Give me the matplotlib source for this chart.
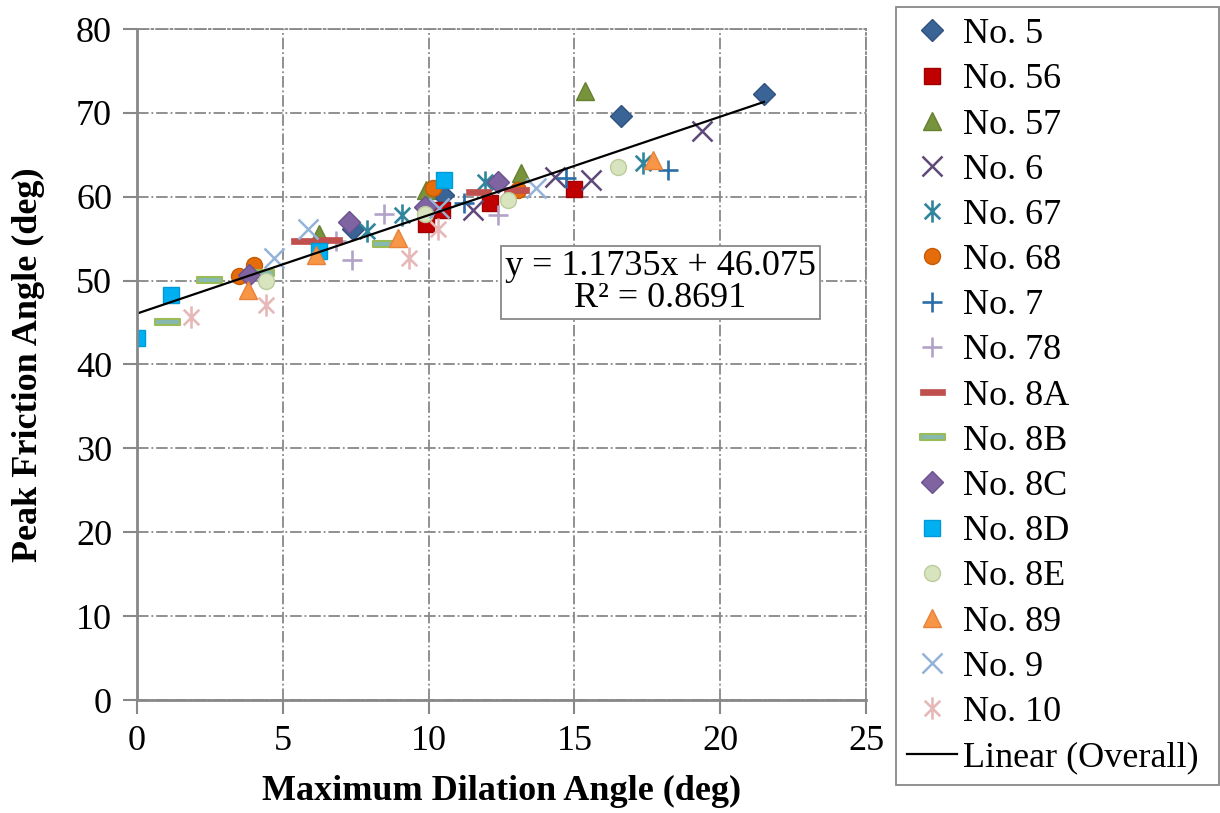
import matplotlib
matplotlib.use("Agg")
import matplotlib.pyplot as plt
from matplotlib.path import Path

plt.rcParams['font.family'] = ['Liberation Serif', 'DejaVu Serif']

# data (x = max dilation angle, y = peak friction angle)
no5_x = [21.5, 16.6, 7.4, 10.5]
no5_y = [72.2, 69.6, 56.1, 60.2]
no56_x = [10.47, 9.91, 12.09, 14.97]
no56_y = [58.4, 56.7, 59.2, 60.9]
no57_x = [15.38, 13.18, 9.91, 6.25]
no57_y = [72.6, 62.8, 60.8, 55.5]
no6_x = [19.36, 15.58, 14.32, 11.52]
no6_y = [67.8, 62.0, 62.4, 58.4]
no67_x = [17.35, 11.95, 9.1, 7.9]
no67_y = [64.0, 61.8, 57.8, 55.9]
no68_x = [3.5, 4.02, 10.14, 13.06]
no68_y = [50.5, 51.9, 61.0, 60.8]
no7_x = [18.21, 14.72, 11.2]
no7_y = [63.2, 62.2, 59.3]
no78_x = [7.39, 8.48, 6.82, 12.37]
no78_y = [52.5, 58.0, 54.7, 57.8]
no8a_x = [5.68, 6.59, 11.69, 13.0]
no8a_y = [54.7, 54.9, 60.6, 60.8]
no8b_x = [1.04, 2.47, 4.25, 8.5]
no8b_y = [45.1, 50.1, 50.9, 54.4]
no8c_x = [7.28, 12.37, 3.85, 9.86]
no8c_y = [57.0, 61.8, 50.7, 58.8]
no8d_x = [0.0, 1.16, 6.25, 10.54]
no8d_y = [43.1, 48.3, 53.5, 62.0]
no8e_x = [4.42, 9.86, 12.72, 16.49]
no8e_y = [49.9, 58.0, 59.6, 63.6]
no89_x = [3.79, 6.14, 8.94, 17.7]
no89_y = [48.9, 53.1, 55.1, 64.4]
no9_x = [5.85, 4.7, 13.69, 10.37]
no9_y = [56.1, 52.7, 61.0, 58.6]
no10_x = [1.84, 4.42, 9.34, 10.31]
no10_y = [45.7, 47.1, 52.7, 56.1]

slope, intercept, r2 = 1.1735, 46.075, 0.8691
fit_x = [0, 21.5]

# excel-like star marker: x plus vertical bar
star = Path([(-0.7, -0.7), (0.7, 0.7), (-0.7, 0.7), (0.7, -0.7), (0, -1), (0, 1)],
            [Path.MOVETO, Path.LINETO, Path.MOVETO, Path.LINETO, Path.MOVETO, Path.LINETO])
bar = Path([(-0.5, -0.13), (0.5, -0.13), (0.5, 0.13), (-0.5, 0.13), (-0.5, -0.13)],
           [Path.MOVETO, Path.LINETO, Path.LINETO, Path.LINETO, Path.CLOSEPOLY])

fig = plt.figure(figsize=(12.2, 8.13), dpi=100)
ax = fig.add_axes([137 / 1220, 113 / 813, 729 / 1220, 671 / 813])

ax.plot(no5_x, no5_y, ls='none', marker='D', ms=11.5, mfc='#3A6496', mec='#2F5280', label='No. 5')
ax.plot(no56_x, no56_y, ls='none', marker='s', ms=11.5, mfc='#C00000', mec='#A00000', label='No. 56')
ax.plot(no57_x, no57_y, ls='none', marker='^', ms=12.5, mfc='#77933C', mec='#66802F', label='No. 57')
ax.plot(no6_x, no6_y, ls='none', marker='x', ms=15, mec='#5F497A', mew=1.8, label='No. 6')
ax.plot(no67_x, no67_y, ls='none', marker=star, ms=16, mfc='none', mec='#31859C', mew=1.9, label='No. 67')
ax.plot(no68_x, no68_y, ls='none', marker='o', ms=11.5, mfc='#E46C0A', mec='#C85A05', label='No. 68')
ax.plot(no7_x, no7_y, ls='none', marker='+', ms=15, mec='#2C6EA8', mew=1.9, label='No. 7')
ax.plot(no78_x, no78_y, ls='none', marker='+', ms=15, mec='#B3A2C7', mew=1.9, label='No. 78')
ax.plot(no8a_x, no8a_y, ls='none', marker=bar, ms=18, mfc='#C0504D', mec='#C0504D', mew=0.5, label='No. 8A')
ax.plot(no8b_x, no8b_y, ls='none', marker=bar, ms=18, mfc='#86B9B0', mec='#9BBB59', mew=1.5, label='No. 8B')
ax.plot(no8c_x, no8c_y, ls='none', marker='D', ms=11.5, mfc='#8064A2', mec='#6B5290', label='No. 8C')
ax.plot(no8d_x, no8d_y, ls='none', marker='s', ms=11.5, mfc='#00B0F0', mec='#009AD6', label='No. 8D')
ax.plot(no8e_x, no8e_y, ls='none', marker='o', ms=11.5, mfc='#D7E4BD', mec='#BCCB9C', label='No. 8E')
ax.plot(no89_x, no89_y, ls='none', marker='^', ms=12.5, mfc='#F79646', mec='#E8823A', label='No. 89')
ax.plot(no9_x, no9_y, ls='none', marker='x', ms=15, mec='#95B3D7', mew=1.8, label='No. 9')
ax.plot(no10_x, no10_y, ls='none', marker=star, ms=16, mfc='none', mec='#E6B9B8', mew=1.9, label='No. 10')

fit_y = [slope * v + intercept for v in fit_x]
ax.plot(fit_x, fit_y, color='black', lw=1.6, label='Linear (Overall)')

ax.text(17.95, 49.8, 'y = 1.1735x + 46.075\nR² = 0.8691', fontsize=26, ha='center', va='center',
        linespacing=0.95,
        bbox=dict(boxstyle='square,pad=0.12', fc='white', ec='#888888', lw=1.3))

ax.set_xlim(0, 25)
ax.set_ylim(0, 80)
ax.set_xticks(range(0, 26, 5))
ax.set_yticks(range(0, 81, 10))
ax.grid(True, color='#888888', ls='-.', lw=1.3)
ax.set_axisbelow(True)
for s in ['top', 'right']:
    ax.spines[s].set_color('#888888')
    ax.spines[s].set_linestyle('-.')
    ax.spines[s].set_linewidth(1.3)
for s in ['left', 'bottom']:
    ax.spines[s].set_color('#888888')
    ax.spines[s].set_linewidth(2)
ax.tick_params(direction='out', length=10, width=1.5, color='#888888', labelsize=26, pad=8)
ax.set_xlabel('Maximum Dilation Angle (deg)', fontsize=26, fontweight='bold', labelpad=12)
ax.set_ylabel('Peak Friction Angle (deg)', fontsize=26, fontweight='bold', labelpad=22)

leg = fig.legend(loc='upper left', bbox_to_anchor=(896 / 1220, 1 - 7 / 813, 323 / 1220, 0.0),
                 mode='expand', fontsize=26, numpoints=1, handlelength=1.4, handletextpad=0.15,
                 labelspacing=0.33, borderpad=0.3, borderaxespad=0, fancybox=False, framealpha=1)
leg.get_frame().set_edgecolor('#888888')
leg.get_frame().set_linewidth(1.3)

fig.savefig('out.png', dpi=100)
